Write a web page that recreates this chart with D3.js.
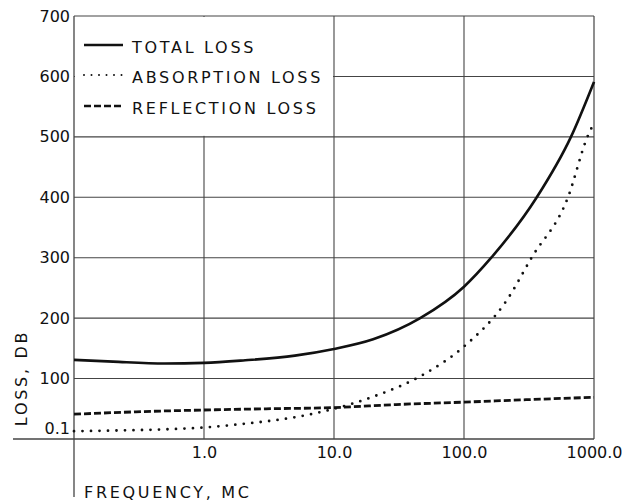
<!DOCTYPE html>
<html>
<head>
<meta charset="utf-8">
<script src="https://cdn.jsdelivr.net/npm/d3@7"></script>
<style>
  body { margin: 0; background: #fff; }
  svg { display: block; font-family: "DejaVu Sans", sans-serif; }
  .lbl { fill: #111; font-size: 16px; letter-spacing: 2.7px; }
</style>
</head>
<body>
<svg id="chart" width="624" height="504"></svg>
<script>
// values (frequency in MC, loss in DB)
const freqTotal = [0.1, 0.2, 0.5, 1, 2, 5, 10, 20, 46, 100, 162, 363, 665, 1000];
const totalLoss = [131, 128, 125, 126, 130, 138, 149, 165, 200, 252, 300, 400, 500, 591];
const freqAbs = [0.1, 0.2, 0.5, 1, 2, 5, 10, 20, 50, 100, 214, 331, 631, 890, 1000];
const absorptionLoss = [13, 14, 16, 19, 25, 36, 50, 70, 108, 153, 230, 300, 400, 500, 523];
const freqRefl = [0.1, 0.3, 1, 3, 10, 30, 100, 300, 1000];
const reflectionLoss = [41, 45, 48, 50, 52, 57, 61, 65, 69];

const xTicks = [1, 10, 100, 1000];
const xTickLabels = ["1.0", "10.0", "100.0", "1000.0"];
const yTicks = [0, 100, 200, 300, 400, 500, 600, 700];
const yTickLabels = ["0.1", "100", "200", "300", "400", "500", "600", "700"];
const legendNames = ["TOTAL LOSS", "ABSORPTION LOSS", "REFLECTION LOSS"];

const svg = d3.select("#chart");
const x = d3.scaleLog().domain([0.1, 1000]).range([74, 594]);
const y = d3.scaleLinear().domain([0, 700]).range([439, 16]);
const ink = "#111", grid = "#444";

// grid
svg.append("g").selectAll("line").data([1, 10, 100]).join("line")
  .attr("x1", d => x(d)).attr("x2", d => x(d)).attr("y1", y(0)).attr("y2", y(700))
  .attr("stroke", grid).attr("stroke-width", 1.1);
svg.append("g").selectAll("line").data([100, 200, 300, 400, 500, 600]).join("line")
  .attr("x1", x(0.1)).attr("x2", x(1000)).attr("y1", d => y(d)).attr("y2", d => y(d))
  .attr("stroke", grid).attr("stroke-width", 1.1);

// legend box hides the grid behind it
svg.append("rect").attr("x", x(0.1) + 1).attr("y", y(700) + 1)
  .attr("width", x(10) - x(0.1) - 2).attr("height", y(500) - y(700) - 2).attr("fill", "#fff");

// frame and long axis lines
svg.append("line").attr("x1", x(0.1)).attr("x2", x(1000)).attr("y1", y(700)).attr("y2", y(700)).attr("stroke", grid).attr("stroke-width", 1.2);
svg.append("line").attr("x1", x(1000)).attr("x2", x(1000)).attr("y1", y(700)).attr("y2", y(0)).attr("stroke", grid).attr("stroke-width", 1.2);
svg.append("line").attr("x1", 13).attr("x2", x(1000)).attr("y1", y(0)).attr("y2", y(0)).attr("stroke", grid).attr("stroke-width", 1.3);
svg.append("line").attr("x1", x(0.1)).attr("x2", x(0.1)).attr("y1", y(700)).attr("y2", 497).attr("stroke", grid).attr("stroke-width", 1.3);

// axes (labels only)
const xAxis = svg.append("g").attr("transform", `translate(0,${y(0)})`)
  .call(d3.axisBottom(x).tickValues(xTicks).tickFormat((d, i) => xTickLabels[i]).tickSize(0).tickPadding(8));
xAxis.select(".domain").remove();
xAxis.selectAll("text").attr("font-family", "DejaVu Sans").attr("font-size", 16).attr("fill", ink);

const yAxis = svg.append("g").attr("transform", `translate(${x(0.1)},0)`)
  .call(d3.axisLeft(y).tickValues(yTicks).tickFormat((d, i) => yTickLabels[i]).tickSize(0).tickPadding(4));
yAxis.select(".domain").remove();
yAxis.selectAll("text").attr("font-family", "DejaVu Sans").attr("font-size", 16).attr("fill", ink)
  .attr("dy", d => d === 0 ? "-0.33em" : "0.32em");

svg.append("text").attr("class", "lbl").attr("x", 84).attr("y", 498).text("FREQUENCY, MC");
svg.append("text").attr("class", "lbl").attr("text-anchor", "middle")
  .attr("transform", "translate(27,378) rotate(-90)").text("LOSS, DB");

// curves
const styles = [
  {w: 2.6, dash: null, cap: "butt"},
  {w: 2.8, dash: "0,8.5", cap: "round"},
  {w: 2.8, dash: "7,3", cap: "butt"}
];
const series = [
  freqTotal.map((f, i) => [f, totalLoss[i]]),
  freqAbs.map((f, i) => [f, absorptionLoss[i]]),
  freqRefl.map((f, i) => [f, reflectionLoss[i]])
];
const line = d3.line().x(d => x(d[0])).y(d => y(d[1])).curve(d3.curveMonotoneX);
series.forEach((s, i) => {
  svg.append("path").datum(s).attr("fill", "none").attr("stroke", ink)
    .attr("stroke-width", styles[i].w).attr("stroke-dasharray", styles[i].dash)
    .attr("stroke-linecap", styles[i].cap).attr("d", line);
});

// legend
const legendY = [45, 75, 106];
legendNames.forEach((name, i) => {
  svg.append("line").attr("x1", 84).attr("x2", 123).attr("y1", legendY[i]).attr("y2", legendY[i])
    .attr("stroke", ink).attr("stroke-width", i === 1 ? 2 : 2.4)
    .attr("stroke-dasharray", i === 1 ? "0,7.5" : styles[i].dash)
    .attr("stroke-linecap", styles[i].cap);
  svg.append("text").attr("class", "lbl").attr("x", 132).attr("y", legendY[i] + 8).text(name);
});
</script>
</body>
</html>
